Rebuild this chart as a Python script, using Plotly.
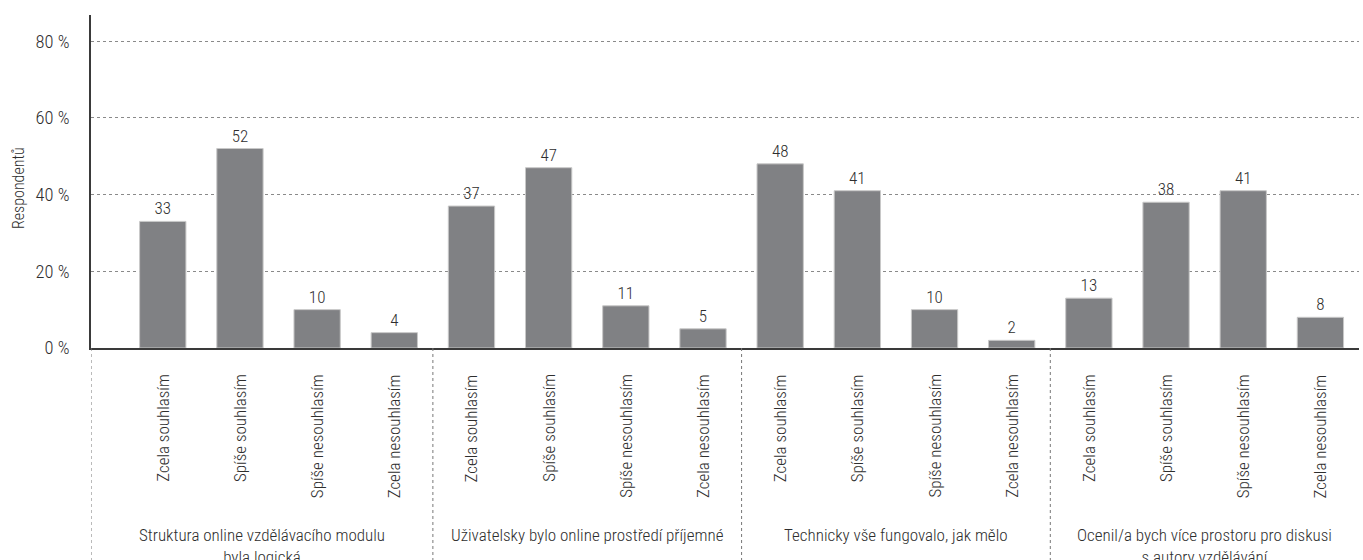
import plotly.graph_objects as go

# Survey answers (% of respondents) for four statements
groups = [
    "Struktura online vzdělávacího modulu<br>byla logická",
    "Uživatelsky bylo online prostředí příjemné",
    "Technicky vše fungovalo, jak mělo",
    "Ocenil/a bych více prostoru pro diskusi<br>s autory vzdělávání",
]
answers = ["Zcela souhlasím", "Spíše souhlasím", "Spíše nesouhlasím", "Zcela nesouhlasím"]
values_g1 = [33, 52, 10, 4]
values_g2 = [37, 47, 11, 5]
values_g3 = [48, 41, 10, 2]
values_g4 = [13, 38, 41, 8]
y_ticks = [0, 20, 40, 60, 80]
y_tick_labels = ["0 %", "20 %", "40 %", "60 %", "80 %"]

FONT = "'Roboto Condensed', 'Arial Narrow', sans-serif"
TXT = "#2e2e2e"
FS = 17


def font(size=FS):
    return dict(family=FONT, size=size, color=TXT, weight=300)


all_values = values_g1 + values_g2 + values_g3 + values_g4
n_ans = len(answers)
xs = list(range(len(all_values)))
x_min, x_max = -0.93, len(all_values) - 0.5

fig = go.Figure()
fig.add_trace(go.Bar(
    x=xs, y=all_values,
    width=0.6,
    marker=dict(color="#808184", line=dict(color="#c8c8c8", width=1)),
    text=[str(v) for v in all_values],
    textposition="outside",
    textfont=font(),
    cliponaxis=False,
    hoverinfo="skip",
))

W, H = 1363, 560
ml, mr, mt, mb = 91, 4, 15, 212
plot_h = H - mt - mb


def py(px):
    # pixel row -> paper y
    return (H - mb - px) / plot_h


annotations = []
# answer labels, rotated, top-aligned under each bar
for i, x in enumerate(xs):
    annotations.append(dict(
        x=x, xref="x", y=py(372), yref="paper",
        text=answers[i % n_ans], textangle=-90,
        xanchor="center", yanchor="top", showarrow=False,
        font=font(),
    ))

# group labels and dotted separators
bounds = [x_min] + [g * n_ans - 0.5 for g in range(1, len(groups))] + [x_max]
for g, label in enumerate(groups):
    annotations.append(dict(
        x=(bounds[g] + bounds[g + 1]) / 2, xref="x", y=py(523), yref="paper",
        text=label, xanchor="center", yanchor="top", showarrow=False,
        font=font(),
    ))

annotations.append(dict(
    x=-(ml - 19) / (W - ml - mr), xref="paper", y=py(188), yref="paper",
    text="Respondentů", textangle=-90, showarrow=False,
    xanchor="center", yanchor="middle",
    font=font(16),
))

shapes = []
for b in bounds[:-1]:
    shapes.append(dict(
        type="line", xref="x", yref="paper",
        x0=b, x1=b, y0=0, y1=py(H),
        line=dict(color="#777777", width=1, dash="dot"),
    ))

fig.update_layout(
    width=W, height=H,
    margin=dict(l=ml, r=mr, t=mt, b=mb, pad=0),
    paper_bgcolor="white", plot_bgcolor="white",
    showlegend=False,
    annotations=annotations,
    shapes=shapes,
    xaxis=dict(
        range=[x_min, x_max], showticklabels=False, showgrid=False,
        zeroline=False, showline=True, linecolor="#3a3a3a", linewidth=1.5,
        ticks="", fixedrange=True,
    ),
    yaxis=dict(
        range=[0, 86.8], tickvals=y_ticks, ticktext=y_tick_labels,
        showgrid=True, gridcolor="#8a8a8a", griddash="dot", gridwidth=1,
        zeroline=False, showline=True, linecolor="#3a3a3a", linewidth=1.5,
        ticks="outside", ticklen=16, tickcolor="rgba(0,0,0,0)",
        tickfont=font(18.5), fixedrange=True,
    ),
)

fig.write_html("out.html")
